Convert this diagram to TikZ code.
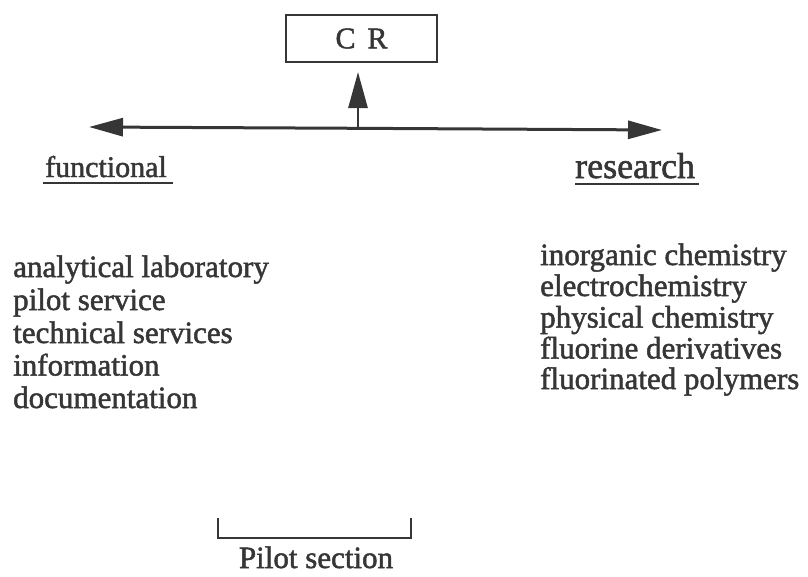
\documentclass[tikz,border=0pt]{standalone}
\usepackage{fontspec}
\setmainfont{Liberation Serif}[FakeBold=1.6]
\usetikzlibrary{arrows.meta}
\definecolor{ink}{HTML}{363636}
\tikzset{
  txt/.style={inner sep=0pt, anchor=base west, text=ink, font=\fontsize{31}{31}\selectfont},
  ln/.style={draw=ink, line width=3pt},
  bigtip/.style={-{Triangle[length=34pt,width=18pt]}},
}
\begin{document}
\begin{tikzpicture}[x=1pt,y=-1pt]
\useasboundingbox (0,0) rectangle (808,576);
% CR box
\node[draw=ink, line width=2.6pt, minimum width=151pt, minimum height=47pt, inner sep=0pt,
      text=ink, font=\fontsize{30}{30}\selectfont] (cr) at (361.5,38.5) {C\hspace{0.4em}R};
% horizontal line with arrows
\coordinate (lt) at (89,127);
\coordinate (rt) at (662,130);
\coordinate (mid) at (358,128.3);
\draw[ln, bigtip] (mid) -- (lt);
\draw[ln, bigtip] (mid) -- (rt);
\coordinate (uptip) at (358,72);
\draw[ln, line width=2.8pt, -{Triangle[length=36pt,width=19pt]}] (mid) -- (uptip);
% headings
\node[txt, font=\fontsize{30}{30}\selectfont] (fun) at (45,177) {functional};
\draw[ln, line width=2pt] (43,183) -- (173,183);
\node[txt, font=\fontsize{36}{36}\selectfont] (res) at (575,178) {research};
\draw[ln, line width=2pt] (575,184) -- (699,184);
% left list
\node[txt] (l1) at (13,277) {analytical laboratory};
\node[txt] (l2) at (13,310) {pilot service};
\node[txt] (l3) at (13,343) {technical services};
\node[txt] (l4) at (13,375.5) {information};
\node[txt] (l5) at (13,408) {documentation};
% right list
\node[txt] (r1) at (540,265) {inorganic chemistry};
\node[txt] (r2) at (540,296) {electrochemistry};
\node[txt] (r3) at (540,327.5) {physical chemistry};
\node[txt] (r4) at (540,358.5) {fluorine derivatives};
\node[txt] (r5) at (540,389) {fluorinated polymers};
% pilot section bracket
\coordinate (bl) at (218,518);
\coordinate (br) at (411,518);
\draw[ln, line width=2.6pt] (bl) -- ++(0,20) -- ++(193,0) -- (br);
\node[txt, anchor=base] (pilot) at (316,568) {Pilot section};
\end{tikzpicture}
\end{document}
